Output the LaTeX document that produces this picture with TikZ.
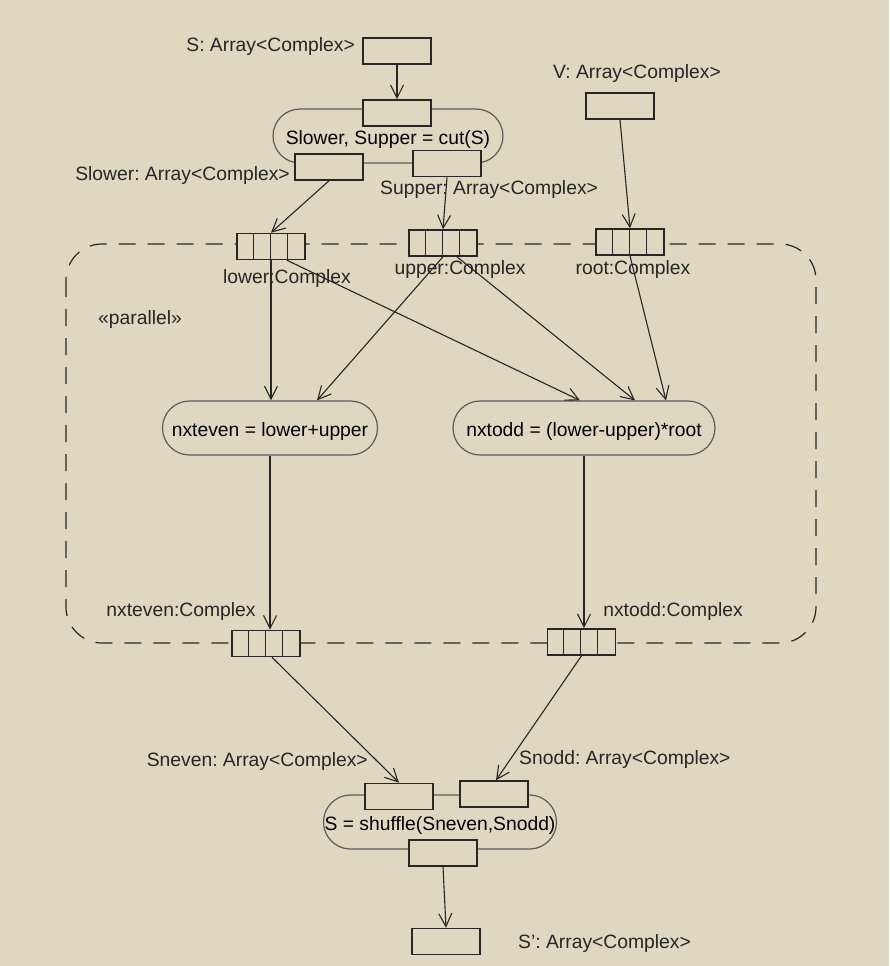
\documentclass[tikz,border=0pt]{standalone}
\usepackage{fontspec}
\setmainfont{Liberation Sans}
\frenchspacing
\usetikzlibrary{arrows.meta}
\definecolor{paper}{RGB}{222,216,192}
\definecolor{ink}{RGB}{38,38,38}
\tikzset{
  flow/.style = {draw = ink, line width = 1.1pt, -{Straight Barb[length = 13pt, width = 13pt]}},
  pin/.style = {draw = ink, fill = paper, line width = 1.6pt, minimum width = 68pt, minimum height = 26pt, inner sep = 0pt},
  action/.style = {draw = ink!75, line width = 1.2pt, rounded corners = 27pt, minimum height = 54pt, inner sep = 0pt, text height = 20pt, text depth = 4pt},
  tag/.style = {text = ink, inner sep = 0pt}
}

\begin{document}
\begin{tikzpicture}[x = 1pt, y = -1pt, font = \fontsize{19.3}{23}\selectfont]
\fill[paper] (0,0) rectangle (889,966);
\useasboundingbox (0,0) rectangle (889,966);

\draw[ink, line width = 1.2pt, dash pattern = on 17pt off 12pt, rounded corners = 36pt] (66,244) rectangle (816,643);

\node[action, minimum width = 230pt] (cut) at (388,136) {Slower, Supper = cut(S)};
\node[action, minimum width = 215pt] (even) at (270,428) {nxteven = lower+upper};
\node[action, minimum width = 262pt] (odd) at (584,428) {nxtodd = (lower-upper)*root};
\node[action, minimum width = 233pt] (shuffle) at (440,822) {S = shuffle(Sneven,Snodd)};

\node[pin] (sin) at (397,51) {};
\node[pin] (cutin) at (397,113) {};
\node[pin] (slow) at (329,167) {};
\node[pin] (supp) at (447,163.5) {};
\node[pin] (vin) at (620,106) {};
\node[pin] (lowpin) at (271,246.5) {};
\node[pin] (uppin) at (443,243) {};
\node[pin] (rootpin) at (630,242) {};
\node[pin] (evenpin) at (266,643.5) {};
\node[pin] (oddpin) at (581.5,642) {};
\node[pin] (shufeven) at (399,796.5) {};
\node[pin] (shufodd) at (494,794) {};
\node[pin] (shufout) at (443,853) {};
\node[pin] (sout) at (446,941.5) {};

\foreach \p in {lowpin, uppin, rootpin, evenpin, oddpin}
  \foreach \k in {1,2,3}
    \draw[ink, line width = 1.3pt] ([xshift = \k*17pt]\p.south west) -- ([xshift = \k*17pt]\p.north west);

\node[tag, anchor = east] (slab) at (355,47) {S: Array<Complex>};
\node[tag, anchor = east] (slowlab) at (290,176) {Slower: Array<Complex>};
\node[tag, anchor = west] (supplab) at (380,190) {Supper: Array<Complex>};
\node[tag] (vlab) at (637,74) {V: Array<Complex>};
\node[tag] (lowlab) at (287,279) {lower:Complex};
\node[tag] (uplab) at (460,270) {upper:Complex};
\node[tag] (rootlab) at (633,270) {root:Complex};
\node[tag] (par) at (140,320) {«parallel»};
\node[tag] (evenlab) at (181,612) {nxteven:Complex};
\node[tag] (oddlab) at (673,612) {nxtodd:Complex};
\node[tag, anchor = east] (nevlab) at (368,762) {Sneven: Array<Complex>};
\node[tag, anchor = west] (noddlab) at (519,760) {Snodd: Array<Complex>};
\node[tag, anchor = west] (resultlab) at (518,943) {S': Array<Complex>};

\draw[flow] (sin.south) -- (cutin.north);
\draw[flow] (slow.south) -- (lowpin.north);
\draw[flow] (supp.south) -- (uppin.north);
\draw[flow] (vin.south) -- (rootpin.north);
\draw[flow] (lowpin.south) -- (lowpin.south |- even.north);
\draw[flow] (uppin.south) -- ([xshift = 47pt]even.north);
\draw[flow] ([xshift = 16pt]lowpin.south) -- ([xshift = -4pt]odd.north);
\draw[flow] ([xshift = 14pt]uppin.south) -- ([xshift = 51pt]odd.north);
\draw[flow] (rootpin.south) -- ([xshift = 82pt]odd.north);
\draw[flow] (even.south) -- (even.south |- evenpin.north);
\draw[flow] (odd.south) -- (odd.south |- oddpin.north);
\draw[flow] ([xshift = 6pt]evenpin.south) -- (shufeven.north);
\draw[flow] (oddpin.south) -- ([xshift = 2pt]shufodd.north);
\draw[flow] (shufout.south) -- (sout.north);
\end{tikzpicture}
\end{document}
